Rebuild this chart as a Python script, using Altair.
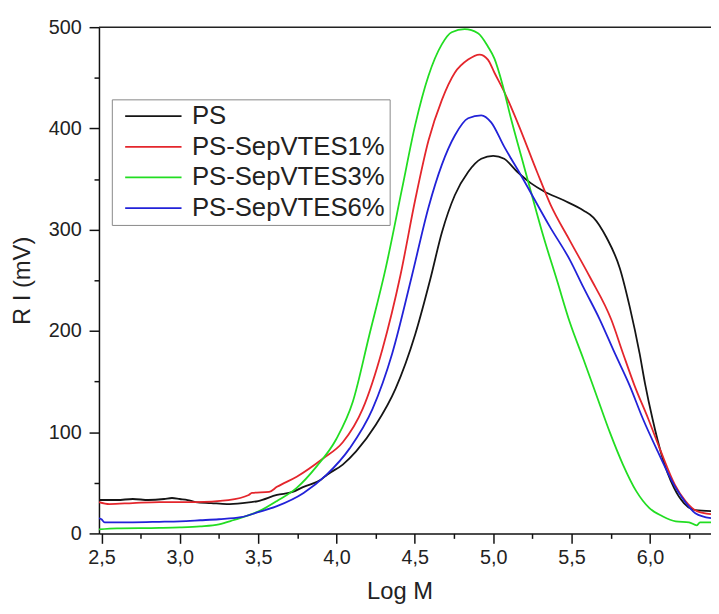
import altair as alt
import pandas as pd

# ---- data ----
series_names = ["PS", "PS-SepVTES1%", "PS-SepVTES3%", "PS-SepVTES6%"]
series_colors = ["#151515", "#e4262c", "#22dd22", "#2222d8"]

ps_x = [2.484, 2.6, 2.7, 2.8, 2.9, 2.95, 3.0, 3.05, 3.1, 3.2, 3.3, 3.4, 3.5, 3.62, 3.72, 3.79,
        3.9, 3.94, 4.04, 4.125, 4.25, 4.377, 4.503, 4.6, 4.672, 4.755, 4.84, 4.924, 5.0, 5.07,
        5.155, 5.24, 5.323, 5.45, 5.576, 5.64, 5.724, 5.808, 5.871, 5.934, 5.969, 6.017, 6.074,
        6.154, 6.217, 6.29, 6.39]
ps_y = [33, 33, 34, 33, 34, 35, 34, 33, 31, 30, 29, 30, 32, 38, 41, 46,
        53, 58, 68, 81, 107, 143, 197, 252, 297, 334, 357, 370, 373, 370,
        357, 346, 338, 329, 319, 312, 292, 262, 224, 178, 148, 113, 78,
        45, 30, 23, 22]

r1_x = [2.484, 2.55, 2.7, 2.87, 3.0, 3.1, 3.31, 3.44, 3.46, 3.57, 3.62, 3.746, 3.914, 4.04,
        4.167, 4.293, 4.408, 4.503, 4.587, 4.672, 4.755, 4.84, 4.913, 4.966, 5.008, 5.08,
        5.155, 5.28, 5.365, 5.49, 5.618, 5.754, 5.828, 5.902, 5.99, 6.07, 6.16, 6.227, 6.3, 6.39]
r1_y = [31, 29, 30, 31, 31, 31, 33, 38, 40, 41, 46, 56, 74, 90,
        123, 182, 255, 330, 388, 428, 455, 468, 473, 468, 455, 433,
        406, 357, 325, 289, 253, 211, 178, 146, 113, 81, 48, 32, 22, 19]

r3_x = [2.484, 2.6, 2.87, 3.0, 3.13, 3.25, 3.34, 3.52, 3.62, 3.746, 3.872, 3.998, 4.104,
        4.208, 4.314, 4.419, 4.503, 4.587, 4.672, 4.735, 4.818, 4.903, 4.966, 5.008, 5.06,
        5.113, 5.18, 5.24, 5.323, 5.407, 5.49, 5.576, 5.66, 5.744, 5.828, 5.912, 5.997, 6.08,
        6.165, 6.25, 6.3, 6.32, 6.39]
r3_y = [4, 5, 5.5, 6, 7, 9, 13, 23, 32, 45, 66, 93, 130,
        195, 262, 341, 404, 452, 483, 495, 498, 494, 481, 469, 443,
        410, 372, 338, 292, 250, 208, 172, 136, 100, 68, 42, 25, 17,
        12, 11, 8, 11, 11]

r6_x = [2.484, 2.5, 2.52, 2.7, 2.87, 3.0, 3.13, 3.25, 3.39, 3.5, 3.62, 3.79, 3.937, 4.084,
        4.23, 4.356, 4.482, 4.587, 4.672, 4.755, 4.84, 4.924, 4.987, 5.07, 5.176, 5.365, 5.49,
        5.576, 5.681, 5.776, 5.871, 5.956, 6.05, 6.154, 6.207, 6.29, 6.39]
r6_y = [15, 14, 11, 11, 11.5, 12, 13, 14, 16, 21, 27, 40, 58, 84,
        123, 178, 255, 322, 364, 393, 410, 413, 406, 382, 354, 302, 270,
        243, 211, 178, 146, 113, 81, 48, 35, 20, 15]

x_ticks = [2.5, 2.75, 3.0, 3.25, 3.5, 3.75, 4.0, 4.25, 4.5, 4.75, 5.0, 5.25, 5.5, 5.75,
           6.0, 6.25]
y_ticks = [0, 50, 100, 150, 200, 250, 300, 350, 400, 450, 500]
x_domain = [2.484, 6.39]
y_domain = [0, 500]

rows = []
for name, xs, ys in zip(series_names, [ps_x, r1_x, r3_x, r6_x], [ps_y, r1_y, r3_y, r6_y]):
    for i, (xv, yv) in enumerate(zip(xs, ys)):
        rows.append({"series": name, "logm": xv, "ri": yv, "order": i})
df = pd.DataFrame(rows)

FONT = "Liberation Sans"

x_enc = alt.X(
    "logm:Q",
    scale=alt.Scale(domain=x_domain, nice=False, zero=False),
    axis=alt.Axis(
        title="Log M",
        values=x_ticks,
        labelExpr="round(datum.value*4) % 2 === 0 ? replace(format(datum.value, '.1f'), '.', ',') : ''",
        tickSize={"condition": {"test": "round(datum.value*4) % 2 === 0", "value": 10}, "value": 5},
        tickColor="#111111",
        tickWidth=1.5,
        domainColor="#111111",
        domainWidth=1.5,
        labelFontSize=20,
        labelFont=FONT,
        labelColor="#222222",
        labelPadding=4,
        labelFlush=False,
        titleFontSize=24,
        titleFont=FONT,
        titleFontWeight="normal",
        titleColor="#222222",
        titleX=304,
        titlePadding=13,
        grid=False,
    ),
)
y_enc = alt.Y(
    "ri:Q",
    scale=alt.Scale(domain=y_domain, nice=False, zero=True),
    axis=alt.Axis(
        title="R I (mV)",
        values=y_ticks,
        labelExpr="datum.value % 100 === 0 ? datum.label : ''",
        tickSize={"condition": {"test": "datum.value % 100 === 0", "value": 10}, "value": 5},
        tickColor="#111111",
        tickWidth=1.5,
        domainColor="#111111",
        domainWidth=1.5,
        labelFontSize=20,
        labelFont=FONT,
        labelColor="#222222",
        labelPadding=8,
        titleFontSize=24,
        titleFont=FONT,
        titleFontWeight="normal",
        titleColor="#222222",
        titlePadding=14,
        grid=False,
    ),
)

lines = alt.Chart(df).mark_line(strokeWidth=1.8, interpolate="monotone", clip=True).encode(
    x=x_enc,
    y=y_enc,
    order="order:Q",
    color=alt.Color(
        "series:N",
        scale=alt.Scale(domain=series_names, range=series_colors),
        sort=series_names,
        legend=alt.Legend(
            title=None,
            orient="none",
            legendX=13,
            legendY=73,
            symbolType="M-2.85,0H2.85",
            symbolSize=400,
            symbolStrokeWidth=1.8,
            symbolOffset=25,
            labelFontSize=26,
            labelFont=FONT,
            labelColor="#222222",
            labelOffset=26,
            rowPadding=5,
            padding=4,
            strokeColor="#888888",
            fillColor="white",
            labelLimit=400,
        ),
    ),
)

top_border = alt.Chart(pd.DataFrame({"v": [y_domain[1]]})).mark_rule(
    color="#222222", strokeWidth=1.5
).encode(y=alt.Y("v:Q", scale=alt.Scale(domain=y_domain)))

chart = (
    alt.layer(lines, top_border)
    .properties(
        width=619,
        height=512,
        autosize=alt.AutoSizeParams(type="none"),
        padding={"left": 92, "top": 16, "right": 0, "bottom": 70},
        background="white",
    )
    .configure_view(stroke=None)
)

chart.save("out.html", embed_options={"renderer": "svg", "actions": False})
